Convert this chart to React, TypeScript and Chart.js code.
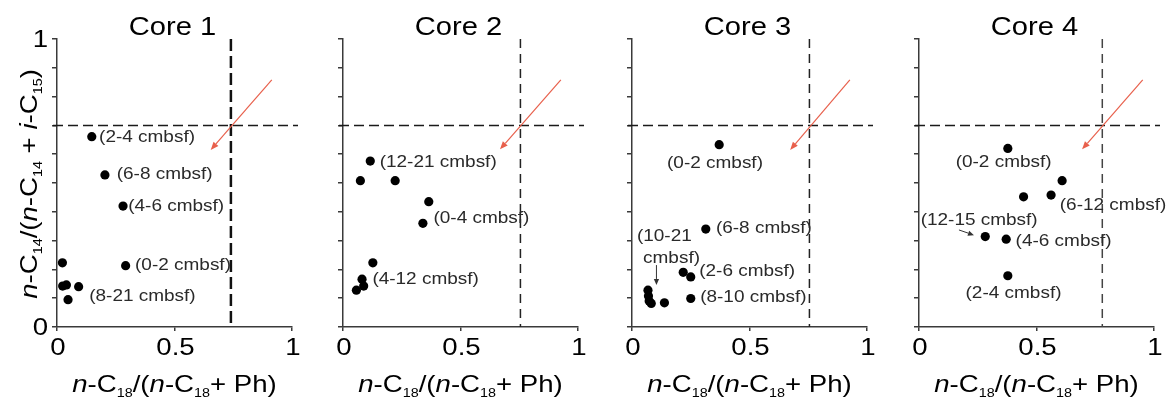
import React, { useEffect, useRef } from 'react';
import { Chart, registerables } from 'chart.js';

Chart.register(...registerables);

// ---------------- data ----------------
const coreTitles = ['Core 1', 'Core 2', 'Core 3', 'Core 4'];

const core1X = [0.148, 0.204, 0.281, 0.292, 0.023, 0.024, 0.040, 0.092, 0.047];
const core1Y = [0.661, 0.528, 0.420, 0.213, 0.223, 0.142, 0.146, 0.140, 0.095];

const core2X = [0.116, 0.074, 0.222, 0.365, 0.340, 0.127, 0.081, 0.088, 0.057];
const core2Y = [0.576, 0.508, 0.508, 0.435, 0.360, 0.223, 0.166, 0.142, 0.128];

const core3X = [0.371, 0.314, 0.218, 0.250, 0.250, 0.068, 0.070, 0.073, 0.082, 0.138];
const core3Y = [0.633, 0.340, 0.190, 0.174, 0.099, 0.128, 0.108, 0.090, 0.082, 0.084];

const core4X = [0.378, 0.609, 0.445, 0.562, 0.282, 0.371, 0.378];
const core4Y = [0.620, 0.508, 0.452, 0.458, 0.314, 0.305, 0.178];

const core1Labels = ['(2-4 cmbsf)', '(6-8 cmbsf)', '(4-6 cmbsf)', '(0-2 cmbsf)', '(8-21 cmbsf)'];
const core1LabelX = [0.179, 0.254, 0.303, 0.332, 0.137];
const core1LabelY = [0.657, 0.528, 0.420, 0.213, 0.105];

const core2Labels = ['(12-21 cmbsf)', '(0-4 cmbsf)', '(4-12 cmbsf)'];
const core2LabelX = [0.156, 0.385, 0.125];
const core2LabelY = [0.572, 0.377, 0.166];

const core3Labels = ['(0-2 cmbsf)', '(6-8 cmbsf)', '(10-21', 'cmbsf)', '(2-6 cmbsf)', '(8-10 cmbsf)'];
const core3LabelX = [0.149, 0.357, 0.021, 0.047, 0.286, 0.290];
const core3LabelY = [0.568, 0.343, 0.314, 0.238, 0.192, 0.102];

const core4Labels = ['(0-2 cmbsf)', '(6-12 cmbsf)', '(12-15 cmbsf)', '(4-6 cmbsf)', '(2-4 cmbsf)'];
const core4LabelX = [0.156, 0.599, 0.007, 0.411, 0.198];
const core4LabelY = [0.570, 0.422, 0.369, 0.296, 0.117];

const verticalThreshold = [0.74, 0.755, 0.755, 0.78];
const horizontalThreshold = 0.7;

const redArrowFrom = [[0.914, 0.858], [0.927, 0.858], [0.927, 0.858], [0.952, 0.858]];
const redArrowTo = [[0.654, 0.615], [0.668, 0.617], [0.673, 0.615], [0.694, 0.617]];

// small black pointer arrows (panel index, from, to)
const pointerPanel = [2, 3];
const pointerFrom = [[0.104, 0.215], [0.17, 0.337]];
const pointerTo = [[0.104, 0.146], [0.234, 0.319]];

const xTickValues = [0, 0.5, 1];
const xTickLabels = ['0', '0.5', '1'];
const yLabelValues = [0, 1];
const yLabelTexts = ['0', '1'];

// ---------------- layout / style ----------------
const FONT = '"Liberation Sans", Arial, Helvetica, sans-serif';
const STRETCH = 1.15;
const canvasLefts = [0, 286, 575, 862];
const CW = 320;
const CH = 399;
const PLOT_W = 235;
const AXIS_COLOR = '#3a3a3a';

const panels = [
  { title: coreTitles[0], xs: core1X, ys: core1Y, lt: core1Labels, lx: core1LabelX, ly: core1LabelY },
  { title: coreTitles[1], xs: core2X, ys: core2Y, lt: core2Labels, lx: core2LabelX, ly: core2LabelY },
  { title: coreTitles[2], xs: core3X, ys: core3Y, lt: core3Labels, lx: core3LabelX, ly: core3LabelY },
  { title: coreTitles[3], xs: core4X, ys: core4Y, lt: core4Labels, lx: core4LabelX, ly: core4LabelY },
];

const vStyles = [
  { width: 2.5, dash: [12, 5], color: '#111' },
  { width: 1.5, dash: [9, 6], color: '#222' },
  { width: 1.5, dash: [9, 6], color: '#222' },
  { width: 1.5, dash: [9, 6], color: '#444' },
];

type Seg = { t: string; it?: boolean; sub?: boolean };

const yTitleSegs: Seg[] = [
  { t: 'n', it: true }, { t: '-C' }, { t: '14', sub: true }, { t: '/(' },
  { t: 'n', it: true }, { t: '-C' }, { t: '14', sub: true }, { t: ' + ' },
  { t: 'i', it: true }, { t: '-C' }, { t: '15', sub: true }, { t: ')' },
];
const xTitleSegs: Seg[] = [
  { t: 'n', it: true }, { t: '-C' }, { t: '18', sub: true }, { t: '/(' },
  { t: 'n', it: true }, { t: '-C' }, { t: '18', sub: true }, { t: '+ Ph)' },
];

function segFont(s: Seg, F: number, subF: number) {
  return `${s.it ? 'italic ' : ''}${s.sub ? subF : F}px ${FONT}`;
}

function richWidth(ctx: CanvasRenderingContext2D, segs: Seg[], F: number, subF: number) {
  let w = 0;
  for (const s of segs) {
    ctx.font = segFont(s, F, subF);
    w += ctx.measureText(s.t).width;
  }
  return w;
}

function drawRich(
  ctx: CanvasRenderingContext2D, segs: Seg[], x: number, y: number,
  F: number, subF: number, sx: number, align: 'left' | 'center' | 'right', baseline: CanvasTextBaseline,
) {
  ctx.save();
  ctx.translate(x, y);
  ctx.scale(sx, 1);
  ctx.textAlign = 'left';
  ctx.textBaseline = baseline;
  const w = richWidth(ctx, segs, F, subF);
  let cx = align === 'center' ? -w / 2 : align === 'right' ? -w : 0;
  for (const s of segs) {
    ctx.font = segFont(s, F, subF);
    ctx.fillText(s.t, cx, s.sub ? F * 0.22 : 0);
    cx += ctx.measureText(s.t).width;
  }
  ctx.restore();
}

function drawArrow(
  ctx: CanvasRenderingContext2D, x1: number, y1: number, x2: number, y2: number,
  color: string, lw: number, headLen: number, headHalf: number,
) {
  const ang = Math.atan2(y2 - y1, x2 - x1);
  const bx = x2 - headLen * Math.cos(ang);
  const by = y2 - headLen * Math.sin(ang);
  ctx.save();
  ctx.strokeStyle = color;
  ctx.fillStyle = color;
  ctx.lineWidth = lw;
  ctx.setLineDash([]);
  ctx.beginPath();
  ctx.moveTo(x1, y1);
  ctx.lineTo(bx, by);
  ctx.stroke();
  ctx.beginPath();
  ctx.moveTo(x2, y2);
  ctx.lineTo(bx + headHalf * Math.sin(ang), by - headHalf * Math.cos(ang));
  ctx.lineTo(bx - headHalf * Math.sin(ang), by + headHalf * Math.cos(ang));
  ctx.closePath();
  ctx.fill();
  ctx.restore();
}

function makePlugin(idx: number) {
  const p = panels[idx];
  return {
    id: 'decor' + idx,
    beforeDatasetsDraw(chart: any) {
      const { ctx, chartArea: a, scales } = chart;
      const x = scales.x;
      const y = scales.y;
      ctx.save();
      ctx.setLineDash([10, 5]);
      ctx.strokeStyle = '#1a1a1a';
      ctx.lineWidth = 1.5;
      const hy = y.getPixelForValue(horizontalThreshold);
      ctx.beginPath();
      ctx.moveTo(a.left - 4, hy);
      ctx.lineTo(a.right + 6, hy);
      ctx.stroke();
      const vs = vStyles[idx];
      const vx = x.getPixelForValue(verticalThreshold[idx]);
      ctx.setLineDash(vs.dash);
      ctx.lineWidth = vs.width;
      ctx.strokeStyle = vs.color;
      ctx.beginPath();
      ctx.moveTo(vx, a.top);
      ctx.lineTo(vx, a.bottom);
      ctx.stroke();
      ctx.restore();
    },
    afterDatasetsDraw(chart: any) {
      const { ctx, scales } = chart;
      const x = scales.x;
      const y = scales.y;
      // red arrow
      drawArrow(
        ctx,
        x.getPixelForValue(redArrowFrom[idx][0]), y.getPixelForValue(redArrowFrom[idx][1]),
        x.getPixelForValue(redArrowTo[idx][0]), y.getPixelForValue(redArrowTo[idx][1]),
        '#e8604c', 1.2, 8, 3.2,
      );
      // black pointers
      pointerPanel.forEach((pi, k) => {
        if (pi !== idx) return;
        drawArrow(
          ctx,
          x.getPixelForValue(pointerFrom[k][0]), y.getPixelForValue(pointerFrom[k][1]),
          x.getPixelForValue(pointerTo[k][0]), y.getPixelForValue(pointerTo[k][1]),
          '#333', 1, 6, 2.6,
        );
      });
      // point labels
      ctx.save();
      ctx.fillStyle = '#2a2a2a';
      p.lt.forEach((t, k) => {
        drawRich(ctx, [{ t }], x.getPixelForValue(p.lx[k]), y.getPixelForValue(p.ly[k]), 16.5, 10, STRETCH, 'left', 'middle');
      });
      ctx.restore();
    },
    afterDraw(chart: any) {
      const { ctx, chartArea: a, scales } = chart;
      const x = scales.x;
      const y = scales.y;
      ctx.save();
      ctx.fillStyle = '#000';
      // title
      drawRich(ctx, [{ t: p.title }], (a.left + a.right) / 2 - 2, 35, 26, 14, 1.12, 'center', 'alphabetic');
      // x tick labels
      xTickValues.forEach((v, k) => {
        drawRich(ctx, [{ t: xTickLabels[k] }], x.getPixelForValue(v) + 1, 355, 24, 12, STRETCH, 'center', 'alphabetic');
      });
      // x title
      drawRich(ctx, xTitleSegs, (a.left + a.right) / 2, 392, 24, 12.5, STRETCH, 'center', 'alphabetic');
      if (idx === 0) {
        yLabelValues.forEach((v, k) => {
          drawRich(ctx, [{ t: yLabelTexts[k] }], a.left - 9, y.getPixelForValue(v) + 1, 24, 12, STRETCH, 'right', 'middle');
        });
        ctx.save();
        ctx.translate(37, (a.top + a.bottom) / 2 + 1);
        ctx.rotate(-Math.PI / 2);
        drawRich(ctx, yTitleSegs, 0, 0, 24, 12.5, STRETCH, 'center', 'alphabetic');
        ctx.restore();
      }
      ctx.restore();
    },
  };
}

function makeConfig(idx: number): any {
  const p = panels[idx];
  return {
    type: 'scatter',
    data: {
      datasets: [
        {
          data: p.xs.map((v, k) => ({ x: v, y: p.ys[k] })),
          pointRadius: 4.6,
          pointHoverRadius: 4.6,
          backgroundColor: '#000',
          borderColor: '#000',
          borderWidth: 0,
        },
      ],
    },
    options: {
      animation: false,
      responsive: false,
      events: [],
      clip: false,
      layout: { padding: { top: 39, right: CW - 57 - PLOT_W, left: 0, bottom: 0 } },
      plugins: { legend: { display: false }, tooltip: { enabled: false }, title: { display: false } },
      scales: {
        x: {
          type: 'linear',
          min: 0,
          max: 1,
          ticks: { stepSize: 0.5, display: false },
          grid: { drawOnChartArea: false, drawTicks: true, tickLength: 4, color: AXIS_COLOR, lineWidth: 1.5 },
          border: { display: true, color: AXIS_COLOR, width: 1.5 },
          afterFit: (s: any) => { s.height = 72; },
        },
        y: {
          type: 'linear',
          min: 0,
          max: 1,
          ticks: { stepSize: 0.1, display: false },
          grid: { drawOnChartArea: false, drawTicks: true, tickLength: 5, color: AXIS_COLOR, lineWidth: 1.5 },
          border: { display: true, color: AXIS_COLOR, width: 1.5 },
          afterFit: (s: any) => { s.width = 57; },
        },
      },
    },
    plugins: [makePlugin(idx)],
  };
}

function Panel({ idx }: { idx: number }) {
  const ref = useRef<HTMLCanvasElement | null>(null);
  useEffect(() => {
    if (!ref.current) return;
    const chart = new Chart(ref.current, makeConfig(idx));
    return () => chart.destroy();
  }, [idx]);
  return (
    <canvas
      ref={ref}
      width={CW}
      height={CH}
      style={{ position: 'absolute', left: canvasLefts[idx], top: 0, width: CW, height: CH }}
    />
  );
}

export default function App() {
  return (
    <div style={{ position: 'fixed', left: 0, top: 0, width: 1176, height: 399, background: '#fff', overflow: 'hidden' }}>
      {panels.map((_, i) => (
        <Panel key={i} idx={i} />
      ))}
    </div>
  );
}
